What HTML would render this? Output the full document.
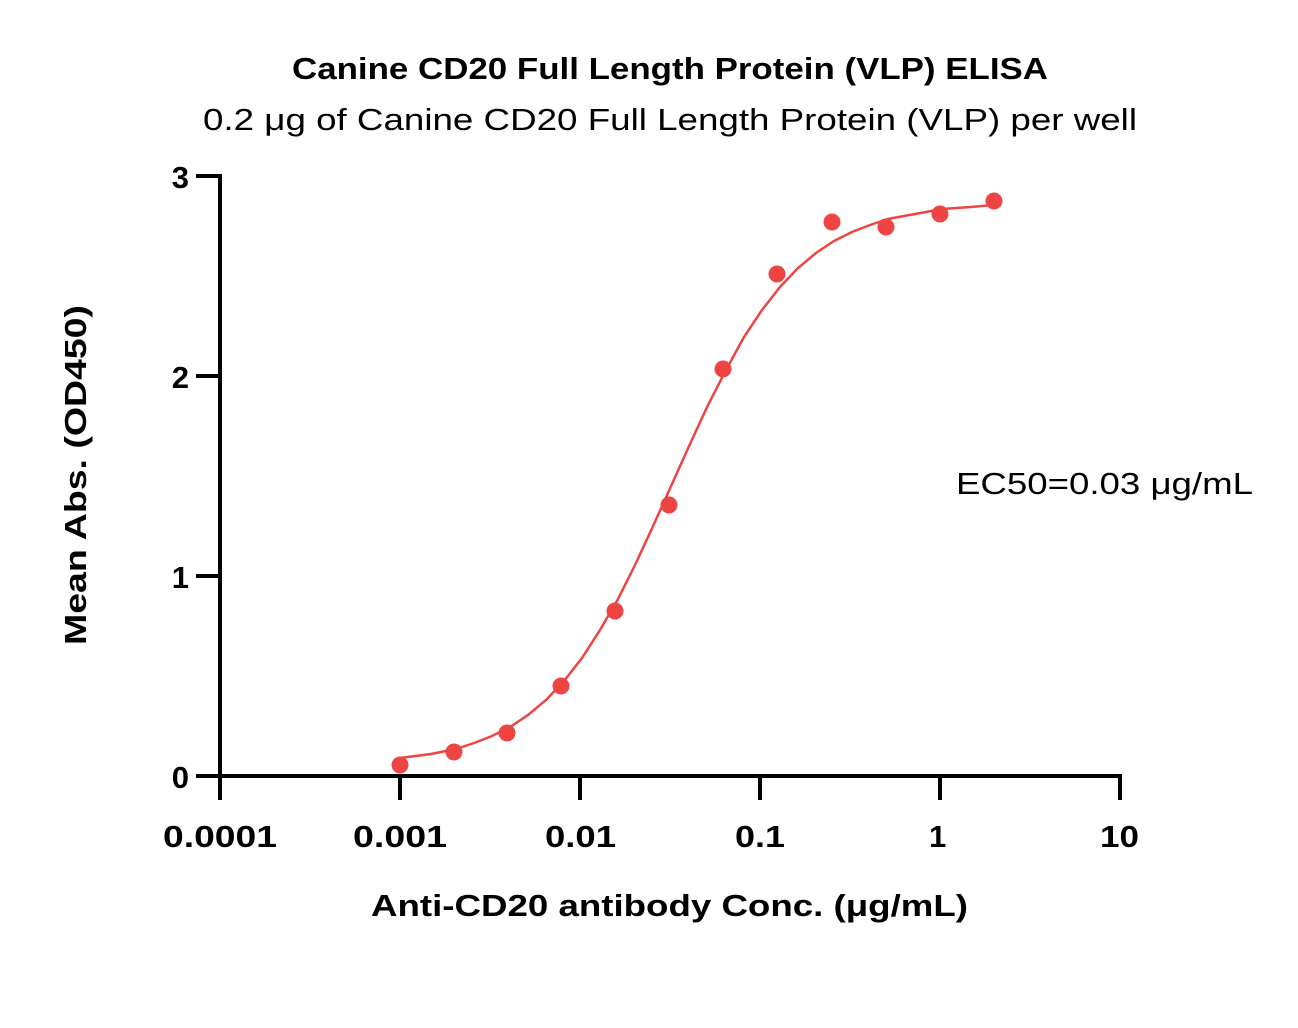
<!DOCTYPE html>
<html><head><meta charset="utf-8"><style>
html,body{margin:0;padding:0;background:#fff;}
svg text{font-family:"Liberation Sans",sans-serif;fill:#000;}
</style></head><body>
<svg width="1298" height="1023" viewBox="0 0 1298 1023" xmlns="http://www.w3.org/2000/svg">
<text x="292" y="79" font-size="31" font-weight="bold" textLength="756" lengthAdjust="spacingAndGlyphs">Canine CD20 Full Length Protein (VLP) ELISA</text>
<text x="203" y="130" font-size="31" textLength="934" lengthAdjust="spacingAndGlyphs">0.2 μg of Canine CD20 Full Length Protein (VLP) per well</text>
<g stroke="#000" stroke-width="4" fill="none">
<line x1="220" y1="174" x2="220" y2="778"/>
<line x1="218" y1="776" x2="1122" y2="776"/>
<line x1="196" y1="176" x2="220" y2="176"/>
<line x1="196" y1="376" x2="220" y2="376"/>
<line x1="196" y1="576" x2="220" y2="576"/>
<line x1="196" y1="776" x2="220" y2="776"/>
<line x1="220" y1="776" x2="220" y2="800"/>
<line x1="400" y1="776" x2="400" y2="800"/>
<line x1="580" y1="776" x2="580" y2="800"/>
<line x1="760" y1="776" x2="760" y2="800"/>
<line x1="940" y1="776" x2="940" y2="800"/>
<line x1="1120" y1="776" x2="1120" y2="800"/>
</g>
<g font-size="31" font-weight="bold" text-anchor="end">
<text x="189" y="188">3</text><text x="189" y="388">2</text><text x="189" y="588">1</text><text x="189" y="788">0</text>
</g>
<g font-size="31" font-weight="bold">
<text x="163" y="847" textLength="114" lengthAdjust="spacingAndGlyphs">0.0001</text>
<text x="353" y="847" textLength="94" lengthAdjust="spacingAndGlyphs">0.001</text>
<text x="545" y="847" textLength="71" lengthAdjust="spacingAndGlyphs">0.01</text>
<text x="735" y="847" textLength="50" lengthAdjust="spacingAndGlyphs">0.1</text>
<text x="929" y="847">1</text>
<text x="1100" y="847" textLength="39" lengthAdjust="spacingAndGlyphs">10</text>
</g>
<text x="371" y="916" font-size="31" font-weight="bold" textLength="597" lengthAdjust="spacingAndGlyphs">Anti-CD20 antibody Conc. (μg/mL)</text>
<text transform="translate(86,645) rotate(-90)" font-size="31" font-weight="bold" textLength="340" lengthAdjust="spacingAndGlyphs">Mean Abs. (OD450)</text>
<text x="956" y="494" font-size="31" textLength="297" lengthAdjust="spacingAndGlyphs">EC50=0.03 μg/mL</text>
<polyline fill="none" stroke="#ee4444" stroke-width="2.5" transform="translate(6,0)" points="394,758 425,754 450,749 468,743 486,736 504,727 522,715 540,700 558,681 576,658 594,630 612,599 630,563 648,524 666,484 684,444 702,405 720,370 738,337 756,310 774,287 792,268 810,253 828,241 846,232 864,225 882,219 909,214 936,209 965,207 988,205"/>
<g fill="#ee4444">
<circle cx="400" cy="765" r="8.5"/><circle cx="454" cy="752" r="8.5"/><circle cx="507" cy="733" r="8.5"/><circle cx="561" cy="686" r="8.5"/><circle cx="615" cy="611" r="8.5"/><circle cx="669" cy="505" r="8.5"/><circle cx="723" cy="369" r="8.5"/><circle cx="777" cy="274" r="8.5"/><circle cx="832" cy="222" r="8.5"/><circle cx="886" cy="227" r="8.5"/><circle cx="940" cy="214" r="8.5"/><circle cx="994" cy="201" r="8.5"/>
</g>
</svg>
</body></html>
